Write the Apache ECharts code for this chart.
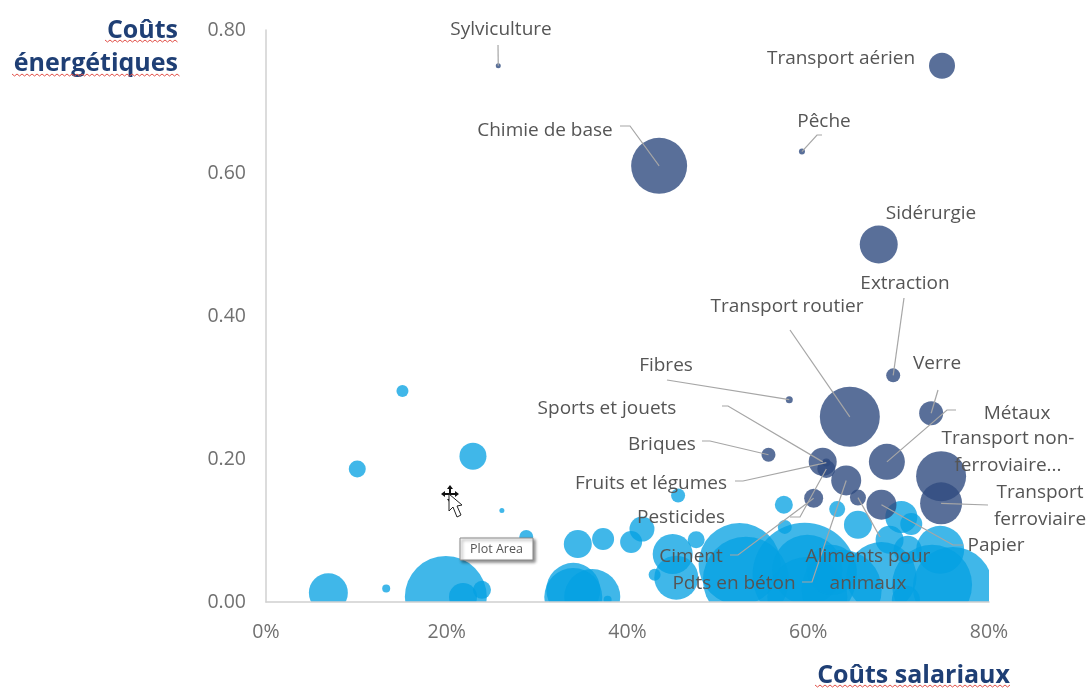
<!DOCTYPE html>
<html><head><meta charset="utf-8">
<style>html,body{margin:0;padding:0;background:#fff}#c{width:1086px;height:688px}</style>
<script src="https://cdn.jsdelivr.net/npm/echarts@6/dist/echarts.min.js"></script>
</head><body><div id="c"></div>
<script>
// Energy-intensive sectors (dark)
const energyNames = ['Sylviculture','Transport aérien','Chimie de base','Pêche','Sidérurgie','Extraction','Transport routier','Fibres','Verre','Transport non-ferroviaire','Transport ferroviaire','Métaux','Sports et jouets','Fruits et légumes','Pesticides','Briques','Pdts en béton','Ciment','Aliments pour animaux','Papier'];
const energyX = [25.7,74.8,43.5,59.3,67.8,69.4,64.6,57.9,73.6,74.7,74.7,68.7,61.6,62.0,62.0,55.6,64.2,60.6,65.5,68.1];
const energyY = [0.75,0.75,0.61,0.63,0.50,0.317,0.259,0.283,0.264,0.176,0.138,0.196,0.196,0.195,0.186,0.206,0.17,0.145,0.146,0.136];
const energySize = [2.5,13,28,3,19,7,30,3.5,12,25,21,18,14,4,9,7,15,9.5,8,15];
// Other sectors (light)
const otherX = [15.1,10.1,22.9,26.1,28.8,6.9,13.3,19.9,21.8,23.9,34.5,37.3,40.4,41.6,34,36.1,34,37.8,43,45.6,45,47.6,45.4,52.4,53.1,59.6,59.9,57.3,57.4,63.2,65.5,70.3,71.4,69,74.6,71,76,73.7,68.1,63.7,59.9,70.8,62.6];
const otherY = [0.295,0.186,0.204,0.128,0.091,0.013,0.019,0.007,0.007,0.017,0.081,0.088,0.084,0.102,0.017,0.007,0.007,0.003,0.038,0.149,0.067,0.087,0.034,0.053,0.031,0.038,0.045,0.136,0.105,0.13,0.108,0.119,0.109,0.087,0.073,0.073,0.021,0.024,0.035,0.017,0.007,0.003,0.045];
const otherSize = [6,8.5,13.5,2.5,7,19.5,4,41,14,9,14,11,11,12.5,27,28,29,4,6,7,20,8.5,22,41,43,52,35,9,7,8,14,16,11,14,24,14,40,40,35,40,40,14,25];
const xTicks = [0,20,40,60,80];
const yTicks = [0,0.2,0.4,0.6,0.8];

// Annotation layout (screen pixels): label centre and leader start / elbow
const annotations = {
 'Sylviculture':{text:'Sylviculture',at:[501,30],line:[[498,45]]},
 'Transport aérien':{text:'Transport aérien',at:[841,59],line:[]},
 'Chimie de base':{text:'Chimie de base',at:[545,131],line:[[620,126],[630,126]]},
 'Pêche':{text:'Pêche',at:[824,122],line:[[822,135],[817,135]]},
 'Sidérurgie':{text:'Sidérurgie',at:[931,214],line:[]},
 'Extraction':{text:'Extraction',at:[905,284],line:[[904,298]]},
 'Transport routier':{text:'Transport routier',at:[787,307],line:[[790,330]]},
 'Verre':{text:'Verre',at:[937,364],line:[[938,390]]},
 'Fibres':{text:'Fibres',at:[666,366],line:[[667,380]]},
 'Métaux':{text:'Métaux',at:[1017,414],line:[[956,410],[947,410]]},
 'Transport non-ferroviaire':{text:'Transport non-\nferroviaire...',at:[1008,452],line:[]},
 'Sports et jouets':{text:'Sports et jouets',at:[607,409],line:[[722,406],[728,406]]},
 'Briques':{text:'Briques',at:[662,445],line:[[702,441],[710,441]]},
 'Fruits et légumes':{text:'Fruits et légumes',at:[651,484],line:[[735,481],[743,481]]},
 'Transport ferroviaire':{text:'Transport\nferroviaire',at:[1040,506],line:[[988,505]]},
 'Pesticides':{text:'Pesticides',at:[681,518],line:[[790,517],[800,517]]},
 'Papier':{text:'Papier',at:[996,546],line:[[963,545],[953,545]]},
 'Ciment':{text:'Ciment',at:[691,557],line:[[730,555],[738,555]]},
 'Aliments pour animaux':{text:'Aliments pour\nanimaux',at:[868,570],line:[[880,537]]},
 'Pdts en béton':{text:'Pdts en béton',at:[734,584],line:[[802,582],[812,582]]}
};

const FONT = '"Open Sans","Noto Sans",sans-serif';
const TITLE = '#1f3f75';
const rows = (xs,ys,ss,ns)=>xs.map((x,i)=>ns?[x,ys[i],ss[i],ns[i]]:[x,ys[i],ss[i]]);

function wave(x0,x1,y){
  const pts=[];let up=true;
  for(let x=x0;x<=x1;x+=2.5){pts.push([x,up?y-1:y+1]);up=!up;}
  return {type:'polyline',silent:true,z:50,shape:{points:pts},style:{stroke:'#e2514a',lineWidth:1,fill:null}};
}

const chart = echarts.init(document.getElementById('c'),null,{renderer:'canvas'});
chart.setOption({
  animation:false,
  backgroundColor:'#fff',
  grid:{left:266,right:97,top:30,bottom:86,containLabel:false,outerBoundsMode:'none'},
  xAxis:{type:'value',min:0,max:80,interval:20,z:10,
    axisLine:{show:true,lineStyle:{color:'#d0d0d0',width:1.5}},axisTick:{show:false},splitLine:{show:false},
    axisLabel:{color:'#707070',fontSize:19.5,fontFamily:FONT,margin:20,formatter:'{value}%',customValues:xTicks},
    name:'Coûts salariaux',nameLocation:'end',nameGap:21,nameMoveOverlap:false,
    nameTextStyle:{color:TITLE,fontSize:25,fontWeight:'bold',fontFamily:FONT,align:'right',verticalAlign:'top',padding:[61,0,0,0]}},
  yAxis:{type:'value',min:0,max:0.8,interval:0.2,z:10,
    axisLine:{show:true,lineStyle:{color:'#d0d0d0',width:1.5}},axisTick:{show:false},splitLine:{show:false},
    axisLabel:{color:'#707070',fontSize:19.5,fontFamily:FONT,margin:20,formatter:v=>v.toFixed(2),customValues:yTicks},
    name:'Coûts\nénergétiques',nameLocation:'end',nameGap:16,nameRotate:0,nameMoveOverlap:false,
    nameTextStyle:{color:TITLE,fontSize:25,fontWeight:'bold',fontFamily:FONT,align:'right',verticalAlign:'top',lineHeight:33,padding:[0,88,0,0]}},
  series:[
    {name:'Autres',type:'scatter',data:rows(otherX,otherY,otherSize),symbolSize:v=>2*v[2],z:2,
     itemStyle:{color:'#04a0e2',opacity:0.76},silent:true},
    {name:'Énergie',type:'scatter',data:rows(energyX,energyY,energySize,energyNames),symbolSize:v=>2*v[2],z:3,
     itemStyle:{color:'#2f4b80',opacity:0.8},silent:true},
    {name:'Libellés',type:'custom',z:5,silent:true,clip:false,
     data:rows(energyX,energyY,energySize,energyNames),
     dimensions:['x','y','s',{name:'n',type:'ordinal'}],
     encode:{x:0,y:1},
     renderItem:(params,api)=>{
       const i=params.dataIndex;
       const a=annotations[energyNames[i]];
       const end=api.coord([energyX[i],energyY[i]]);
       const children=[];
       if(a.line.length) children.push({type:'polyline',shape:{points:a.line.concat([end])},style:{stroke:'#a6a6a6',lineWidth:1.2,fill:null}});
       children.push({type:'text',x:a.at[0],y:a.at[1],style:{text:a.text,fill:'#555',fontFamily:FONT,fontSize:19,lineHeight:26.5,align:'center',verticalAlign:'middle'}});
       return {type:'group',children};
     }}
  ],
  graphic:[
    // white masks: bubbles are cut off at the plot area edges
    {type:'rect',silent:true,z:4,shape:{x:0,y:602,width:1086,height:86},style:{fill:'#fff'}},
    {type:'rect',silent:true,z:4,shape:{x:989,y:0,width:97,height:688},style:{fill:'#fff'}},
    wave(105,178,41),wave(12,181,75),wave(815,1010,686),
    {type:'group',z:60,silent:true,children:[
      {type:'rect',z:60,shape:{x:460,y:538,width:73,height:22},style:{fill:'#fff',stroke:'#8a8a8a',lineWidth:1,shadowColor:'rgba(0,0,0,0.45)',shadowBlur:3,shadowOffsetX:2,shadowOffsetY:2}},
      {type:'text',z:61,x:496.5,y:549,style:{text:'Plot Area',fill:'#555',fontFamily:FONT,fontSize:12.5,align:'center',verticalAlign:'middle'}}
    ]},
    {type:'group',z:60,silent:true,children:[
      {type:'polygon',z:60,shape:{points:[[441,494],[445,491],[445,493],[449,493],[449,489],[447,489],[450,485],[453,489],[451,489],[451,493],[455,493],[455,491],[459,494],[455,497],[455,495],[451,495],[451,499],[453,499],[450,503],[447,499],[449,499],[449,495],[445,495],[445,497]]},style:{fill:'#111'}},
      {type:'polygon',z:61,shape:{points:[[449,494],[449,511],[453,507],[457,517],[461,515],[457,506],[462,505]]},style:{fill:'#fff',stroke:'#222',lineWidth:1}}
    ]}
  ]
});
</script></body></html>
